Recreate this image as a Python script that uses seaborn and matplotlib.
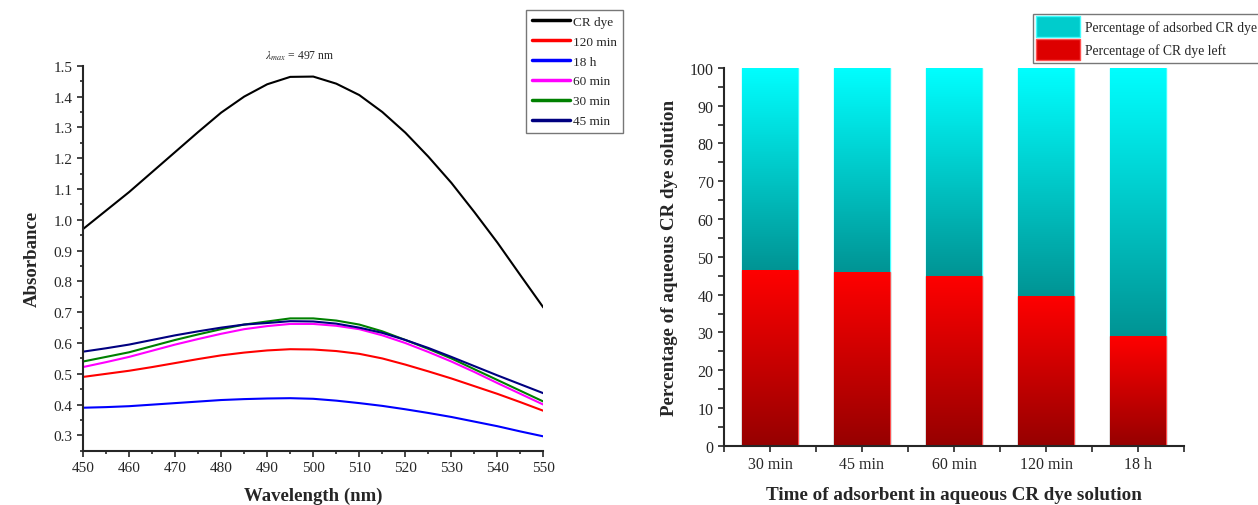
import numpy as np
import pandas as pd
import matplotlib
matplotlib.use('Agg')
import matplotlib.pyplot as plt
from matplotlib.colors import LinearSegmentedColormap
from matplotlib.patches import Patch
from matplotlib.ticker import MultipleLocator
import seaborn as sns

# UV-vis spectra (absorbance vs wavelength)
wavelength = [450, 455, 460, 465, 470, 475, 480, 485, 490, 495, 500, 505, 510, 515, 520, 525, 530, 535, 540, 545, 550]
cr_dye = [0.97, 1.03, 1.09, 1.155, 1.22, 1.285, 1.348, 1.40, 1.44, 1.464, 1.465, 1.442, 1.405, 1.35, 1.283, 1.205, 1.12, 1.025, 0.926, 0.82, 0.715]
min120 = [0.49, 0.50, 0.51, 0.522, 0.535, 0.548, 0.56, 0.569, 0.576, 0.58, 0.579, 0.574, 0.565, 0.55, 0.53, 0.508, 0.485, 0.46, 0.435, 0.408, 0.38]
h18 = [0.39, 0.392, 0.395, 0.40, 0.405, 0.41, 0.415, 0.418, 0.42, 0.421, 0.419, 0.413, 0.405, 0.396, 0.385, 0.373, 0.36, 0.345, 0.33, 0.313, 0.297]
min60 = [0.522, 0.538, 0.555, 0.575, 0.595, 0.613, 0.63, 0.645, 0.655, 0.662, 0.662, 0.656, 0.645, 0.625, 0.60, 0.571, 0.54, 0.506, 0.47, 0.435, 0.40]
min30 = [0.54, 0.555, 0.57, 0.59, 0.61, 0.628, 0.645, 0.66, 0.67, 0.68, 0.68, 0.673, 0.66, 0.638, 0.61, 0.581, 0.55, 0.515, 0.48, 0.445, 0.41]
min45 = [0.572, 0.583, 0.595, 0.61, 0.625, 0.638, 0.65, 0.66, 0.665, 0.671, 0.67, 0.663, 0.65, 0.633, 0.61, 0.584, 0.555, 0.525, 0.495, 0.466, 0.437]
series_names = ['CR dye', '120 min', '18 h', '60 min', '30 min', '45 min']
series_colors = ['black', '#ff0000', '#0000ff', '#ff00ff', '#008000', '#000080']

# adsorption bars
times = ['30 min', '45 min', '60 min', '120 min', '18 h']
dye_left = [46.5, 46.0, 45.0, 39.5, 29.0]
total = [100, 100, 100, 100, 100]

sns.set_style('ticks')
plt.rcParams['font.family'] = ['Liberation Serif', 'DejaVu Serif']
plt.rcParams['mathtext.fontset'] = 'stix'

fig = plt.figure(figsize=(12.58, 5.06), dpi=100)
ax1 = fig.add_axes([0.066, 0.107, 0.366, 0.761])
ax2 = fig.add_axes([0.5755, 0.117, 0.3657, 0.747])

# ---- left: spectra
rows = []
for name, vals in zip(series_names, [cr_dye, min120, h18, min60, min30, min45]):
    for w, v in zip(wavelength, vals):
        rows.append({'wavelength': w, 'absorbance': v, 'sample': name})
spec = pd.DataFrame(rows)
sns.lineplot(data=spec, x='wavelength', y='absorbance', hue='sample', hue_order=series_names,
             palette=series_colors, linewidth=1.5, ax=ax1, legend=False)
ax1.set_xlim(450, 550)
ax1.set_ylim(0.25, 1.5)
ax1.xaxis.set_major_locator(MultipleLocator(10))
ax1.xaxis.set_minor_locator(MultipleLocator(5))
ax1.yaxis.set_minor_locator(MultipleLocator(0.05))
ax1.set_yticks(np.arange(0.3, 1.51, 0.1))
ax1.tick_params(which='both', direction='out', labelsize=11, width=1.2)
ax1.tick_params(which='major', length=4)
ax1.tick_params(which='minor', length=2.5)
for s in ['left', 'bottom']:
    ax1.spines[s].set_linewidth(1.5)
sns.despine(ax=ax1)
ax1.set_xlabel('Wavelength (nm)', fontsize=13.5, fontweight='bold', labelpad=9)
ax1.set_ylabel('Absorbance', fontsize=13.5, fontweight='bold', labelpad=9)
ax1.text(497, 1.533, r'$\lambda_{max}$ = 497 nm', ha='center', va='center', fontsize=8.5)
handles1 = [plt.Line2D([], [], color=c, lw=2.5) for c in series_colors]
fig.legend(handles1, series_names, loc='upper left', bbox_to_anchor=(0.418, 0.979),
           frameon=True, fancybox=False, edgecolor='#555555', fontsize=9.5,
           handlelength=2.9, handletextpad=0.25, labelspacing=0.58, borderpad=0.45,
           borderaxespad=0)

# ---- right: stacked gradient bars
bars = pd.DataFrame({'time': times, 'total': total, 'left': dye_left})
sns.barplot(data=bars, x='time', y='total', color='#00cccc', width=0.6, ax=ax2,
            edgecolor='#40ffff', linewidth=1)
n_top = len(ax2.patches)
sns.barplot(data=bars, x='time', y='left', color='#dd0000', width=0.6, ax=ax2,
            edgecolor='#ff5050', linewidth=1)
cyan_cmap = LinearSegmentedColormap.from_list('cy', ['#009494', '#00ffff'])
red_cmap = LinearSegmentedColormap.from_list('rd', ['#960000', '#ff0000'])
grad = np.linspace(0, 1, 256).reshape(-1, 1)
red_tops = dict()
for i, p in enumerate(ax2.patches[n_top:]):
    x0, y0 = p.get_x(), p.get_y()
    w, h = p.get_width(), p.get_height()
    red_tops[i] = h
    im = ax2.imshow(grad, cmap=red_cmap, origin='lower', aspect='auto',
                    extent=[x0, x0 + w, y0, y0 + h], zorder=p.get_zorder() + 0.1)
    im.set_clip_path(p)
for i, p in enumerate(ax2.patches[:n_top]):
    x0 = p.get_x()
    w, h = p.get_width(), p.get_height()
    lo = red_tops[i]
    im = ax2.imshow(grad, cmap=cyan_cmap, origin='lower', aspect='auto',
                    extent=[x0, x0 + w, lo, h], zorder=p.get_zorder() + 0.05)
    im.set_clip_path(p)
ax2.set_xlim(-0.5, 4.5)
ax2.set_ylim(0, 100)
ax2.yaxis.set_major_locator(MultipleLocator(10))
ax2.yaxis.set_minor_locator(MultipleLocator(5))
ax2.set_xticks(np.arange(-0.5, 4.6, 1.0), minor=True)
ax2.tick_params(which='both', direction='out', labelsize=11.5, width=1.2)
ax2.tick_params(which='major', length=4)
ax2.tick_params(which='minor', length=4)
for s in ['left', 'bottom']:
    ax2.spines[s].set_linewidth(1.5)
sns.despine(ax=ax2)
ax2.set_xlabel('Time of adsorbent in aqueous CR dye solution', fontsize=13.7,
               fontweight='bold', labelpad=10)
ax2.set_ylabel('Percentage of aqueous CR dye solution', fontsize=13.7,
               fontweight='bold', labelpad=8)
handles2 = [Patch(facecolor='#00cccc', edgecolor='#40ffff'),
            Patch(facecolor='#dd0000', edgecolor='#ff5050')]
fig.legend(handles2, ['Percentage of adsorbed CR dye', 'Percentage of CR dye left'],
           loc='upper left', bbox_to_anchor=(0.821, 0.971), frameon=True, fancybox=False,
           edgecolor='#555555', fontsize=9.8, handlelength=3.3, handleheight=2.0,
           handletextpad=0.3, labelspacing=0.15, borderpad=0.2, borderaxespad=0)

fig.savefig('out.png', dpi=100)
